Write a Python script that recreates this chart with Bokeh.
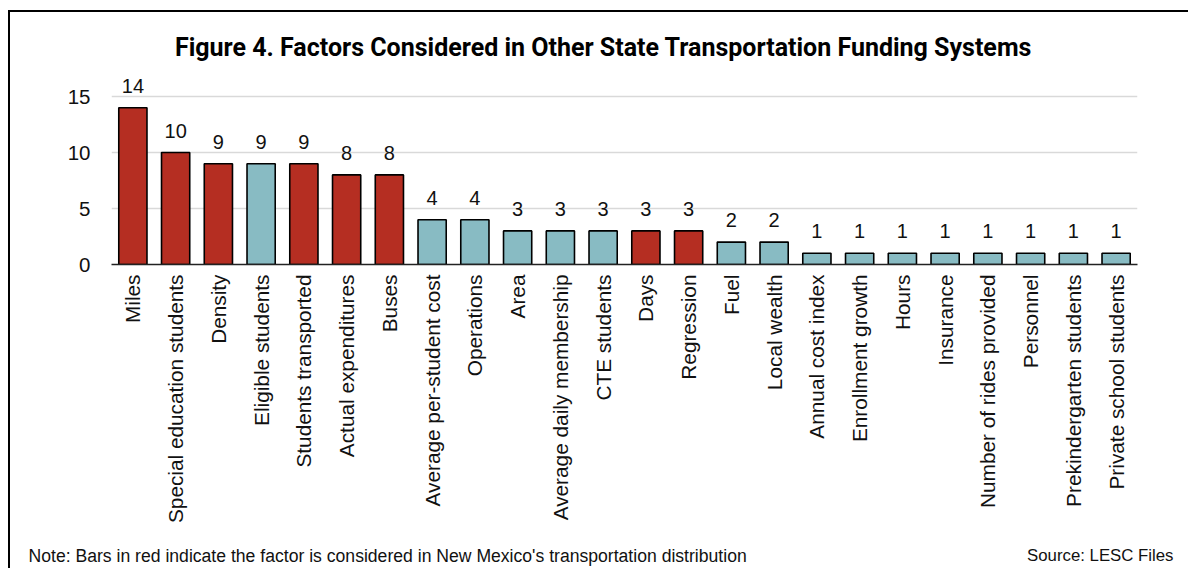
import math
from bokeh.plotting import figure
from bokeh.layouts import column
from bokeh.models import ColumnDataSource, FactorRange, Range1d, FixedTicker
from bokeh.embed import file_html
from bokeh.resources import INLINE
from bokeh.core.properties import value

categories = ["Miles", "Special education students", "Density", "Eligible students",
              "Students transported", "Actual expenditures", "Buses",
              "Average per-student cost", "Operations", "Area", "Average daily membership",
              "CTE students", "Days", "Regression", "Fuel", "Local wealth",
              "Annual cost index", "Enrollment growth", "Hours", "Insurance",
              "Number of rides provided", "Personnel", "Prekindergarten students",
              "Private school students"]
counts = [14, 10, 9, 9, 9, 8, 8, 4, 4, 3, 3, 3, 3, 3, 2, 2, 1, 1, 1, 1, 1, 1, 1, 1]
in_new_mexico = [True, True, True, False, True, True, True, False, False, False, False,
                 False, True, True, False, False, False, False, False, False, False,
                 False, False, False]
y_ticks = [0, 5, 10, 15]
title_text = "Figure 4. Factors Considered in Other State Transportation Funding Systems"
note_text = "Note: Bars in red indicate the factor is considered in New Mexico's transportation distribution"
source_text = "Source: LESC Files"

RED = "#B52E22"
TEAL = "#88BBC3"
TXT = "#111111"
W = 1178
colors = [RED if f else TEAL for f in in_new_mexico]


def text_strip(height):
    f = figure(width=W, height=height, x_range=Range1d(0, W), y_range=Range1d(height, 0),
               x_axis_type=None, y_axis_type=None, output_backend="svg",
               toolbar_location=None, min_border=0)
    f.outline_line_color = None
    f.grid.visible = False
    f.frame_align = False
    return f


# header with title
header = text_strip(49)
header.text(x=[593], y=[35], text=[title_text], text_align="center", text_baseline="middle",
            text_font=value("Roboto"), text_font_style="bold", text_font_size="25px",
            text_color="black")

# main chart
src = ColumnDataSource(dict(cat=categories, val=counts, color=colors,
                            lbl=[str(v) for v in counts]))
p = figure(width=W, height=477, x_range=FactorRange(*categories, range_padding=0),
           y_range=Range1d(0, 17.68), output_backend="svg", toolbar_location=None,
           min_border_left=101, min_border_right=51, min_border_top=5,
           min_border_bottom=274)
p.outline_line_color = None
p.frame_align = False

p.vbar(x="cat", top="val", width=0.66, source=src, fill_color="color",
       line_color="black", line_width=1.6)
p.text(x="cat", y="val", text="lbl", source=src, text_align="center",
       text_baseline="alphabetic", y_offset=-22, text_font=value("Liberation Sans"),
       text_font_size="20px", text_color=TXT)

p.xgrid.grid_line_color = None
p.ygrid.grid_line_color = "#D9D9D9"
p.ygrid.grid_line_width = 1.6
p.yaxis.ticker = FixedTicker(ticks=y_ticks)
p.yaxis.axis_line_color = None
p.yaxis.major_tick_line_color = None
p.yaxis.minor_tick_line_color = None
p.yaxis.major_label_standoff = 15
p.yaxis.major_label_text_font = "Liberation Sans"
p.yaxis.major_label_text_font_size = "20.5px"
p.yaxis.major_label_text_color = TXT

p.xaxis.axis_line_color = "#222222"
p.xaxis.axis_line_width = 1.6
p.xaxis.major_tick_line_color = None
p.xaxis.minor_tick_line_color = None
p.xaxis.major_label_orientation = math.pi / 2
p.xaxis.major_label_standoff = 4
p.xaxis.major_label_text_font = "Liberation Sans"
p.xaxis.major_label_text_font_size = "20.8px"
p.xaxis.major_label_text_color = TXT

# footer with note and source
footer = text_strip(30)
footer.text(x=[18], y=[17], text=[note_text], text_align="left", text_baseline="alphabetic",
            text_font=value("Liberation Sans"), text_font_size="17.6px", text_color=TXT)
footer.text(x=[1163], y=[17], text=[source_text], text_align="right",
            text_baseline="alphabetic", text_font=value("Liberation Sans"),
            text_font_size="16.8px", text_color=TXT)

layout = column(header, p, footer, spacing=0,
                styles={"margin-left": "8px", "margin-top": "10px",
                        "border-left": "2px solid black", "border-top": "2px solid black"})

open("out.html", "w").write(file_html(layout, INLINE))
